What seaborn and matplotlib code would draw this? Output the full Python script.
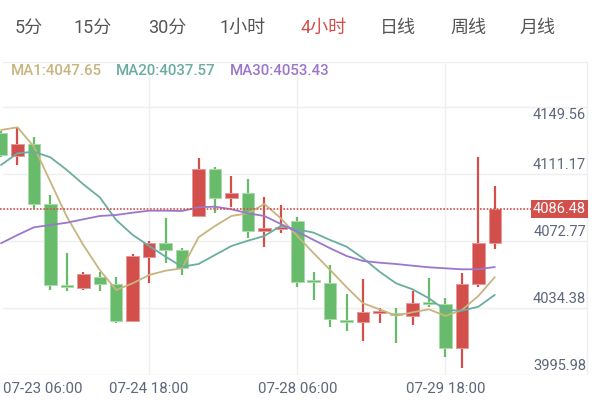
import matplotlib
matplotlib.use("Agg")
import matplotlib.pyplot as plt
import numpy as np
import pandas as pd
import seaborn as sns

sns.set_theme(style="white")
plt.rcParams['font.family'] = ['Roboto', 'Noto Sans CJK SC', 'DejaVu Sans']

# ---- data ----
tabs = ['5分', '15分', '30分', '1小时', '4小时', '日线', '周线', '月线']
active_tab = '4小时'

opens = [4129.40, 4116.67, 4123.15, 4089.06, 4043.20, 4041.33, 4047.92, 4043.60,
         4022.92, 4059.28, 4067.24, 4063.09, 4082.58, 4109.11, 4092.47, 4095.31,
         4073.89, 4075.19, 4079.74, 4046.04, 4044.51, 4023.14, 4022.01, 4027.12,
         4027.46, 4025.76, 4033.71, 4032.41, 4007.24, 4043.77, 4067.24]
highs = [4130.71, 4132.81, 4127.13, 4094.34, 4061.21, 4050.76, 4050.42, 4047.92,
         4060.65, 4068.37, 4081.44, 4064.06, 4115.19, 4110.08, 4105.14, 4103.26,
         4093.03, 4088.66, 4082.01, 4050.42, 4054.57, 4037.92, 4046.61, 4029.96,
         4030.30, 4039.79, 4047.35, 4035.65, 4049.85, 4115.76, 4099.45]
lows = [4115.93, 4111.39, 4086.22, 4040.36, 4039.96, 4040.36, 4039.96, 4021.78,
        4022.46, 4044.51, 4055.53, 4048.88, 4082.12, 4083.94, 4087.35, 4070.08,
        4064.97, 4072.58, 4042.24, 4034.68, 4019.51, 4017.07, 4011.55, 4021.44,
        4010.42, 4020.47, 4030.87, 4002.46, 3995.98, 4042.24, 4063.66]
closes = [4117.07, 4123.15, 4089.23, 4043.20, 4042.24, 4049.28, 4043.60, 4022.92,
          4059.68, 4067.24, 4063.09, 4052.69, 4109.11, 4092.47, 4095.31, 4073.89,
          4075.76, 4076.33, 4045.08, 4045.08, 4023.71, 4022.01, 4027.69, 4028.43,
          4026.16, 4032.80, 4032.41, 4007.24, 4043.77, 4067.24, 4086.48]

ma1 = [4131.27, 4132.81, 4121.79, 4101.90, 4082.01, 4065.93, 4051.73, 4040.36,
       4044.17, 4048.88, 4051.33, 4052.69, 4070.31, 4076.73, 4082.41, 4083.94,
       4089.23, 4081.10, 4071.04, 4061.21, 4051.73, 4041.89, 4032.80, 4029.39,
       4025.76, 4027.69, 4029.39, 4025.59, 4028.98, 4036.95, 4047.65]
ma20 = [4111.39, 4118.03, 4118.94, 4115.76, 4108.55, 4100.42, 4093.03, 4080.14,
        4071.67, 4065.37, 4059.28, 4053.60, 4055.13, 4060.25, 4065.37, 4068.37,
        4071.04, 4076.73, 4074.85, 4072.92, 4068.77, 4064.96, 4058.37, 4050.76,
        4044.17, 4040.76, 4035.65, 4028.98, 4028.60, 4030.87, 4037.57]
ma30 = [4066.90, 4071.61, 4075.99, 4077.29, 4078.60, 4080.53, 4082.41, 4082.98,
        4084.29, 4085.42, 4085.42, 4085.25, 4087.35, 4087.70, 4086.22, 4083.94,
        4082.41, 4077.86, 4073.49, 4068.77, 4064.05, 4059.68, 4056.84, 4055.87,
        4055.13, 4054.17, 4053.26, 4052.69, 4052.12, 4052.12, 4053.43]

x_labels = ['07-23 06:00', '07-24 18:00', '07-28 06:00', '07-29 18:00']
x_label_idx = [0, 9, 18, 27]
y_labels = [4149.56, 4111.17, 4072.77, 4034.38, 3995.98]
last_price = 4086.48

# ---- colours ----
RED = '#d24f4c'
GREEN = '#68bb6b'
RED_EDGE = '#e49a98'
GREEN_EDGE = '#a9dcab'
MA_COLORS = {'MA1': '#c8b47f', 'MA20': '#6aada0', 'MA30': '#9b77cb'}
TXT = '#5e6679'
GRID = '#efefef'

df = pd.DataFrame({'open': opens, 'high': highs, 'low': lows, 'close': closes})
df['i'] = np.arange(len(df))
up = df['close'] >= df['open']
cols = np.where(up, RED, GREEN)
edges = np.where(up, RED_EDGE, GREEN_EDGE)
body_lo = np.minimum(df['open'], df['close'])
body_h = np.maximum((df['close'] - df['open']).abs(), 0.9)

fig = plt.figure(figsize=(5.92, 4.03), dpi=100)
ax = fig.add_axes([0, 28 / 403, 1, 313 / 403])
ax.set_xlim(-1 / 16.46, 591 / 16.46)
ax.set_ylim(3992.06, 4169.91)
ax.axis('off')

# grid
xt = ax.get_xaxis_transform()
for f in [0, 0.2141, 0.4281, 0.6422, 0.8562, 1.0]:
    ax.axhline(ax.get_ylim()[0] + f * np.diff(ax.get_ylim())[0],
               xmin=3 / 592, xmax=587 / 592, color=GRID, lw=1, zorder=0)
for i in x_label_idx[1:]:
    ax.plot([i, i], [0, 1], transform=xt, color=GRID, lw=1, zorder=0)
ax.plot([587 / 592] * 2, [0, 1], transform=ax.transAxes, color=GRID, lw=1, zorder=0)

# candles
ax.vlines(df['i'], df['low'], df['high'], colors=cols, lw=1.6, zorder=3)
ax.bar(df['i'], body_h, bottom=body_lo, width=0.76, color=cols,
       edgecolor=edges, linewidth=0.7, zorder=4)

# moving averages
ma = pd.DataFrame({'i': df['i'], 'MA1': ma1, 'MA20': ma20, 'MA30': ma30})
ma_long = ma.melt(id_vars='i', var_name='ma', value_name='v')
sns.lineplot(data=ma_long, x='i', y='v', hue='ma', palette=MA_COLORS,
             lw=1.3, legend=False, ax=ax, zorder=5)

# last price marker
ax.axhline(last_price, xmin=0, xmax=532 / 592, color=RED, lw=1.2,
           ls=(0, (1, 1)), zorder=6)
ax.text(586 / 592, last_price, f'{last_price:.2f}', transform=ax.get_yaxis_transform(),
        ha='right', va='center', color='white', fontsize=10.5, zorder=7,
        bbox=dict(boxstyle='square,pad=0.12', fc=RED, ec='none'))

# y labels (right side)
for k, v in enumerate(y_labels):
    g = 0.8562 - 0.2141 * k
    yf = g - 0.026 if k == 0 else g + 0.03
    ax.text(586 / 592, yf, f'{v:.2f}', transform=ax.transAxes, ha='right',
            va='center', color=TXT, fontsize=10.5)

# x labels
for lab, i in zip(x_labels, x_label_idx):
    if i == 0:
        fig.text(3 / 592, 1 - 389 / 403, lab, ha='left', va='center', color=TXT, fontsize=10.8)
    else:
        ax.text(i, -14 / 313, lab, transform=xt, ha='center', va='center',
                color=TXT, fontsize=10.8)

# MA legend
for (name, vals), xp in zip([('MA1', ma1), ('MA20', ma20), ('MA30', ma30)], [11, 116, 230]):
    fig.text(xp / 592, 1 - 71 / 403, f'{name}:{vals[-1]:.2f}', ha='left', va='center',
             color=MA_COLORS[name], fontsize=10.8, fontweight='medium')

# period tabs
for t, xc in zip(tabs, [29, 93, 167, 243, 324, 398, 468, 537]):
    fig.text(xc / 592, 1 - 28 / 403, t, ha='center', va='center', fontsize=13,
             color=RED if t == active_tab else '#555555')

fig.savefig('out.png', dpi=100)
